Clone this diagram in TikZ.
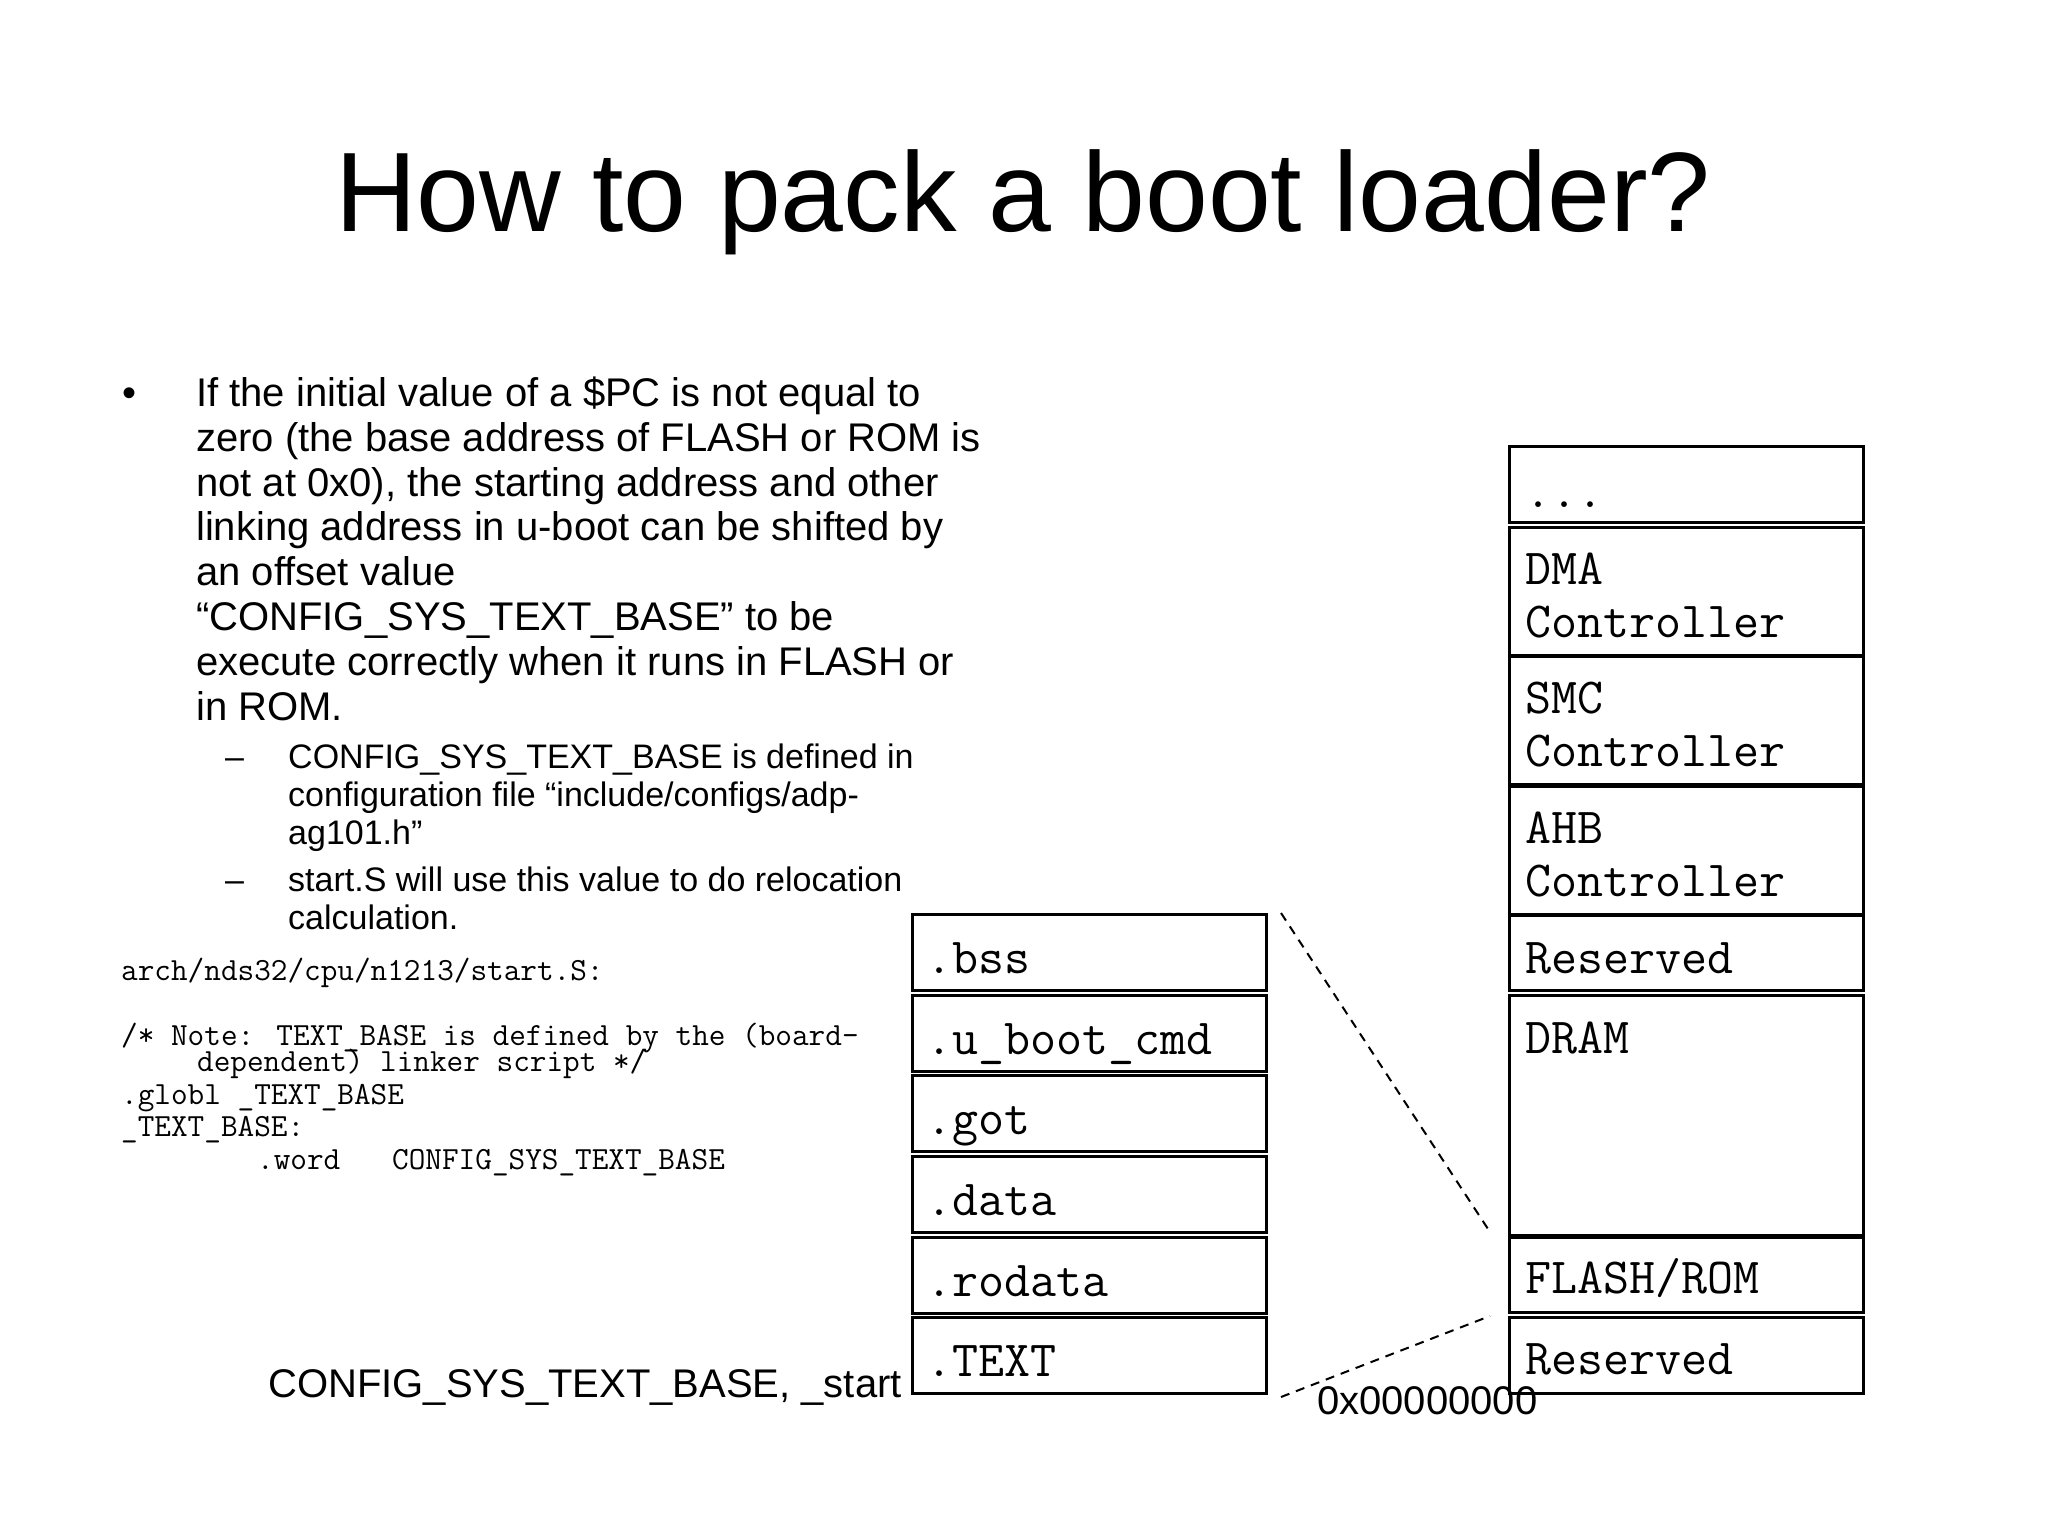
\documentclass[tikz,border=0pt]{standalone}
\usepackage{fontspec}
\setmainfont{Liberation Sans}
\newfontfamily\arialf{Liberation Sans}
\usetikzlibrary{calc}
\begin{document}
\begin{tikzpicture}[x=1pt,y=-1pt,
  titletxt/.style={anchor=base, inner sep=0pt, font=\arialf\fontsize{113}{120}\selectfont},
  bodytxt/.style={anchor=base west, inner sep=0pt, font=\arialf\fontsize{40}{45}\selectfont},
  subtxt/.style={anchor=base west, inner sep=0pt, font=\arialf\fontsize{34}{38}\selectfont},
  codetxt/.style={anchor=base west, inner sep=0pt, font=\ttfamily\fontsize{32.3}{34}\selectfont},
  blk/.style={draw=black, line width=2.6pt, anchor=north west, inner sep=0pt, minimum width=354pt},
  blktxt/.style={anchor=base west, inner sep=0pt, font=\ttfamily\fontsize{50.5}{54}\selectfont},
  guide/.style={draw=black, line width=2pt, dash pattern=on 9pt off 7pt}
]
\useasboundingbox[fill=white] (0,0) rectangle (2048,1536);

% title
\node[titletxt] (title) at (1023,231) {How to pack a boot loader?};

% bullet paragraph
\node[bodytxt] (bul) at (122,406) {\textbullet};
\node[bodytxt] (b1) at (196,406) {If the initial value of a \$PC is not equal to};
\node[bodytxt] (b2) at (196,451) {zero (the base address of FLASH or ROM is};
\node[bodytxt] (b3) at (196,496) {not at 0x0), the starting address and other};
\node[bodytxt] (b4) at (196,540) {linking address in u-boot can be shifted by};
\node[bodytxt] (b5) at (196,585) {an offset value};
\node[bodytxt] (b6) at (196,630) {“CONFIG\_SYS\_TEXT\_BASE” to be};
\node[bodytxt] (b7) at (196,675) {execute correctly when it runs in FLASH or};
\node[bodytxt] (b8) at (196,720) {in ROM.};

% sub bullets
\node[subtxt] (d1) at (225,768) {–};
\node[subtxt] (s1) at (288,768) {CONFIG\_SYS\_TEXT\_BASE is defined in};
\node[subtxt] (s2) at (288,806) {configuration file “include/configs/adp-};
\node[subtxt] (s3) at (288,844) {ag101.h”};
\node[subtxt] (d2) at (225,891) {–};
\node[subtxt] (s4) at (288,891) {start.S will use this value to do relocation};
\node[subtxt] (s5) at (288,929) {calculation.};

% code
\node[codetxt] (c1) at (121,980) {arch/nds32/cpu/n1213/start.S:};
\node[codetxt] (c2) at (121,1045) {/* Note: TEXT\_BASE is defined by the (board-};
\node[codetxt] (c3) at (197,1071) {dependent) linker script */};
\node[codetxt] (c4) at (121,1104) {.globl \_TEXT\_BASE};
\node[codetxt] (c5) at (121,1136) {\_TEXT\_BASE:};
\node[codetxt] (c6) at (257,1169) {.word};
\node[codetxt] (c7) at (392,1169) {CONFIG\_SYS\_TEXT\_BASE};

% start label
\node[bodytxt] (startlbl) at (268,1397) {CONFIG\_SYS\_TEXT\_BASE, \_start};

% left stack
\node[blk, minimum height=76pt] (bss) at (911,913) {};
\node[blk, minimum height=76pt] (ucmd) at (911,994) {};
\node[blk, minimum height=76pt] (got) at (911,1074) {};
\node[blk, minimum height=76pt] (data) at (911,1155) {};
\node[blk, minimum height=76pt] (rodata) at (911,1236) {};
\node[blk, minimum height=76pt] (text) at (911,1316) {};
\node[blktxt] at ($(bss.north west)+(15,60)$) {.bss};
\node[blktxt] at ($(ucmd.north west)+(15,60)$) {.u\_boot\_cmd};
\node[blktxt] at ($(got.north west)+(15,60)$) {.got};
\node[blktxt] at ($(data.north west)+(15,60)$) {.data};
\node[blktxt] at ($(rodata.north west)+(15,60)$) {.rodata};
\node[blktxt] at ($(text.north west)+(15,60)$) {.TEXT};

% right stack
\node[blk, minimum height=76pt] (dots) at (1508,445) {};
\node[blk, minimum height=128pt] (dma) at (1508,526) {};
\node[blk, minimum height=128pt] (smc) at (1508,655) {};
\node[blk, minimum height=128pt] (ahb) at (1508,785) {};
\node[blk, minimum height=75pt] (res1) at (1508,914) {};
\node[blk, minimum height=240pt] (dram) at (1508,994) {};
\node[blk, minimum height=75pt] (flash) at (1508,1236) {};
\node[blk, minimum height=76pt] (res0) at (1508,1316) {};
\node[blktxt] at ($(dots.north west)+(17,62)$) {...};
\node[blktxt] at ($(dma.north west)+(17,58)$) {DMA};
\node[blktxt] at ($(dma.north west)+(17,111)$) {Controller};
\node[blktxt] at ($(smc.north west)+(17,58)$) {SMC};
\node[blktxt] at ($(smc.north west)+(17,111)$) {Controller};
\node[blktxt] at ($(ahb.north west)+(17,58)$) {AHB};
\node[blktxt] at ($(ahb.north west)+(17,111)$) {Controller};
\node[blktxt] at ($(res1.north west)+(17,59)$) {Reserved};
\node[blktxt] at ($(dram.north west)+(17,59)$) {DRAM};
\node[blktxt] at ($(flash.north west)+(17,57)$) {FLASH/ROM};
\node[blktxt] at ($(res0.north west)+(17,58)$) {Reserved};

% address label
\node[bodytxt] (addr) at (1317,1414) {0x00000000};

% zoom guides
\coordinate (g1a) at (1281,913);
\coordinate (g1b) at (1490,1232);
\coordinate (g2a) at (1281,1397);
\coordinate (g2b) at (1490,1316);
\draw[guide] (g1a) -- (g1b);
\draw[guide] (g2a) -- (g2b);
\end{tikzpicture}
\end{document}
